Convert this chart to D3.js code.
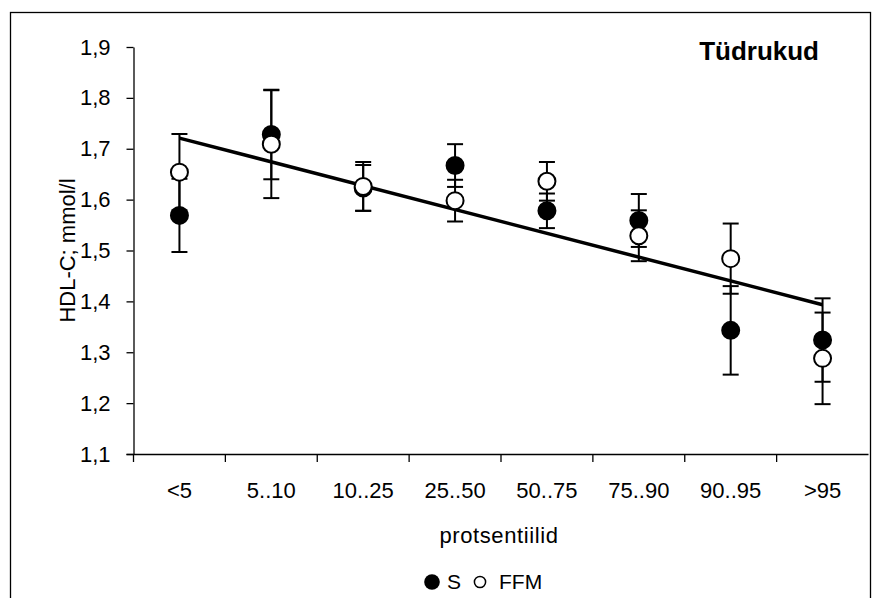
<!DOCTYPE html>
<html lang="et">
<head>
    <meta charset="UTF-8">
    <title>HDL-C protsentiilid</title>
    <style>
        body { margin: 0; background: #fff; }
        svg text { font-family: "Liberation Sans", Arial, sans-serif; fill: #000; }
        .axis path, .axis line { stroke: #000; stroke-width: 1.3; }
        .axis text { font-size: 22px; font-family: "Liberation Sans", Arial, sans-serif; }
    </style>
</head>
<body>
    <div id="chart"></div>

    <script src="https://d3js.org/d3.v7.min.js"></script>
    <script>
        const categories = ["<5", "5..10", "10..25", "25..50", "50..75", "75..90", "90..95", ">95"];
        const sValues = [1.569, 1.728, 1.623, 1.667, 1.578, 1.559, 1.343, 1.324];
        const sErrors = [0.072, 0.088, 0.045, 0.042, 0.034, 0.052, 0.087, 0.082];
        const ffmValues = [1.654, 1.709, 1.626, 1.598, 1.636, 1.529, 1.484, 1.288];
        const ffmErrors = [0.075, 0.106, 0.048, 0.041, 0.038, 0.050, 0.069, 0.090];
        const yTicks = [1.1, 1.2, 1.3, 1.4, 1.5, 1.6, 1.7, 1.8, 1.9];

        const width = 872, height = 598;
        const margin = { left: 133.5, right: 3.5, top: 47, bottom: 144 };

        const svg = d3.select("#chart").append("svg")
            .attr("width", width)
            .attr("height", height);

        // outer frame
        svg.append("rect")
            .attr("x", 10.5).attr("y", 12.5)
            .attr("width", 860).attr("height", 600)
            .attr("fill", "none").attr("stroke", "#000").attr("stroke-width", 1.3);

        const x = d3.scaleBand()
            .domain(categories)
            .range([margin.left, width - margin.right]);

        const y = d3.scaleLinear()
            .domain([1.1, 1.9])
            .range([height - margin.bottom, margin.top]);

        const cx = d => x(d) + x.bandwidth() / 2;

        // y axis
        svg.append("g")
            .attr("class", "axis")
            .attr("transform", `translate(${margin.left},0)`)
            .call(d3.axisLeft(y).tickValues(yTicks).tickSize(7).tickSizeOuter(0).tickPadding(16)
                .tickFormat(d => d3.format(".1f")(d).replace(".", ",")));

        // x axis: labels at centres, ticks on category boundaries
        const xAxis = svg.append("g")
            .attr("class", "axis")
            .attr("transform", `translate(0,${height - margin.bottom})`)
            .call(d3.axisBottom(x).tickSize(0).tickPadding(28));
        xAxis.select(".domain").attr("d", `M${margin.left - 7},0.5H${width - margin.right}`);
        xAxis.selectAll(".bound")
            .data(categories)
            .enter().append("line")
            .attr("x1", d => x(d)).attr("x2", d => x(d))
            .attr("y1", 0).attr("y2", 8)
            .attr("stroke", "#000").attr("stroke-width", 1.3);

        // axis titles
        svg.append("text")
            .attr("transform", `translate(75,${(margin.top + height - margin.bottom) / 2}) rotate(-90)`)
            .attr("text-anchor", "middle")
            .attr("font-size", 22)
            .text("HDL-C; mmol/l");

        svg.append("text")
            .attr("x", (margin.left + width - margin.right) / 2 - 2)
            .attr("y", 543)
            .attr("text-anchor", "middle")
            .attr("font-size", 22)
            .attr("letter-spacing", 0.6)
            .text("protsentiilid");

        svg.append("text")
            .attr("x", 819).attr("y", 60)
            .attr("text-anchor", "end")
            .attr("font-size", 26)
            .attr("font-weight", "bold")
            .text("Tüdrukud");

        // error bars
        const series = [
            { name: "S", values: sValues, errors: sErrors, fill: "#000" },
            { name: "FFM", values: ffmValues, errors: ffmErrors, fill: "#fff" }
        ];

        series.forEach(s => {
            const g = svg.append("g");
            categories.forEach((c, i) => {
                const lo = y(s.values[i] - s.errors[i]);
                const hi = y(s.values[i] + s.errors[i]);
                g.append("line")
                    .attr("x1", cx(c)).attr("x2", cx(c))
                    .attr("y1", lo).attr("y2", hi)
                    .attr("stroke", "#000").attr("stroke-width", 2);
                [lo, hi].forEach(v => {
                    g.append("line")
                        .attr("x1", cx(c) - 8).attr("x2", cx(c) + 8)
                        .attr("y1", v).attr("y2", v)
                        .attr("stroke", "#000").attr("stroke-width", 2);
                });
            });
        });

        // linear trend over both series
        const pts = [];
        categories.forEach((c, i) => {
            pts.push([i + 1, sValues[i]]);
            pts.push([i + 1, ffmValues[i]]);
        });
        const mx = d3.mean(pts, p => p[0]);
        const my = d3.mean(pts, p => p[1]);
        const slope = d3.sum(pts, p => (p[0] - mx) * (p[1] - my)) / d3.sum(pts, p => (p[0] - mx) ** 2);
        const fit = i => my + slope * (i + 1 - mx);

        svg.append("line")
            .attr("x1", cx(categories[0]))
            .attr("y1", y(fit(0)))
            .attr("x2", cx(categories[categories.length - 1]))
            .attr("y2", y(fit(categories.length - 1)))
            .attr("stroke", "#000")
            .attr("stroke-width", 3.5);

        // markers
        series.forEach(s => {
            svg.append("g").selectAll("circle")
                .data(categories)
                .enter().append("circle")
                .attr("cx", d => cx(d))
                .attr("cy", (d, i) => y(s.values[i]))
                .attr("r", 8.5)
                .attr("fill", s.fill)
                .attr("stroke", "#000")
                .attr("stroke-width", 2);
        });

        // legend
        const legend = svg.append("g").attr("transform", "translate(0,582)");
        legend.append("circle").attr("cx", 432).attr("cy", 0).attr("r", 7.8).attr("fill", "#000");
        legend.append("text").attr("x", 447).attr("y", 6.5).attr("font-size", 21).text("S");
        legend.append("circle").attr("cx", 480).attr("cy", 0).attr("r", 5.6)
            .attr("fill", "#fff").attr("stroke", "#000").attr("stroke-width", 1.5);
        legend.append("text").attr("x", 499).attr("y", 6.5).attr("font-size", 21).text("FFM");
    </script>
</body>
</html>
